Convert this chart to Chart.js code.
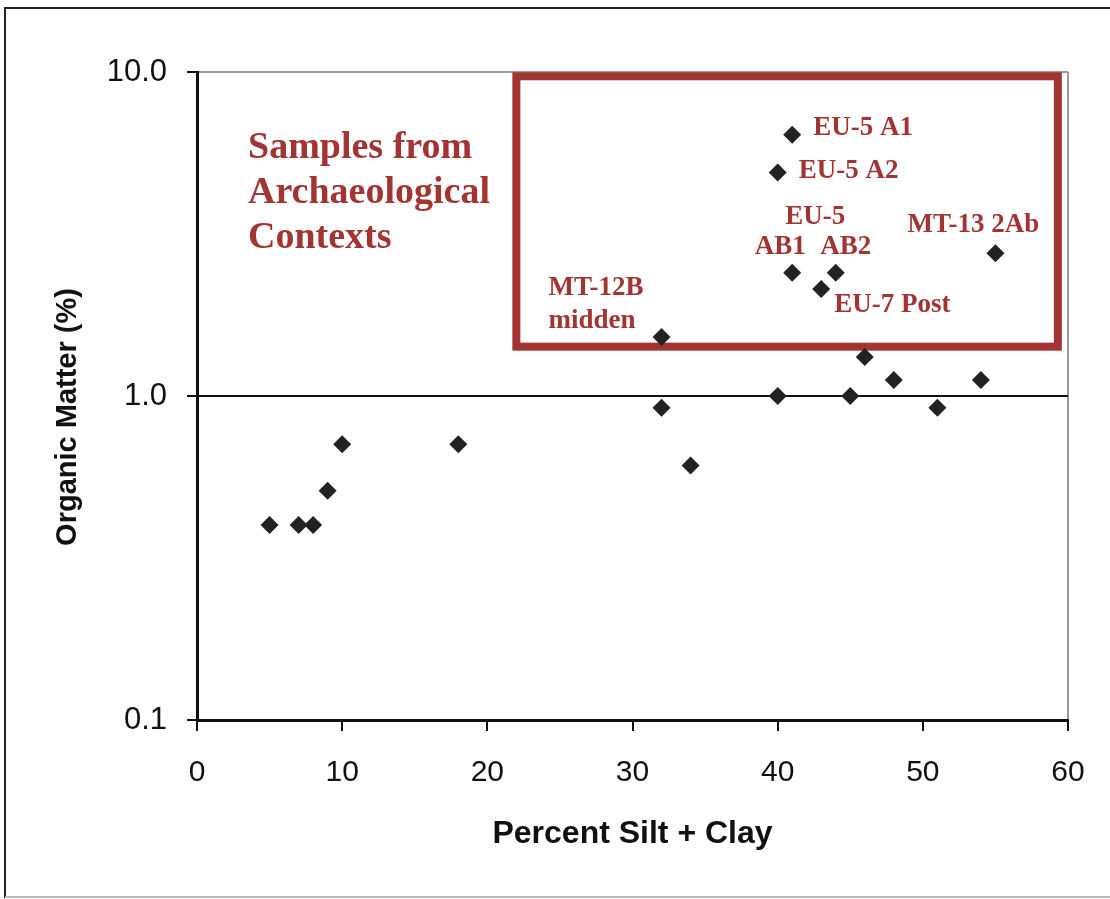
<!DOCTYPE html>
<html>
<head>
<meta charset="utf-8">
<script src="https://cdn.jsdelivr.net/npm/chart.js@4"></script>
<style>
  body { margin: 0; background: #fff; }
  #wrap { width: 1110px; height: 899px; }
</style>
</head>
<body>
<div id="wrap"><canvas id="main-chart" width="1110" height="899"></canvas></div>
<script>
// percent silt + clay (x) vs organic matter % (y)
const silt_clay = [5, 7, 8, 9, 10, 18, 32, 32, 34, 40, 41, 40, 41, 44, 43, 46, 45, 48, 51, 54, 55];
const organic = [0.40, 0.40, 0.40, 0.51, 0.71, 0.71, 1.52, 0.92, 0.61, 1.0, 6.4, 4.9, 2.4, 2.4, 2.14, 1.32, 1.0, 1.12, 0.92, 1.12, 2.76];

const y_ticks = [0.1, 1, 10];
const x_ticks = [0, 10, 20, 30, 40, 50, 60];

// labels: text, index of the point it belongs to
const label_text = ["EU-5 A1", "EU-5 A2", "EU-5", "AB1", "AB2", "EU-7 Post", "MT-13 2Ab", "MT-12B", "midden"];
const label_point = [10, 11, 12, 12, 13, 14, 20, 6, 6];

const title_lines = ["Samples from", "Archaeological", "Contexts"];
const y_title = "Organic Matter (%)";

// red box (data coords)
const box_x = [22, 59.3];
const box_y = [1.42, 9.7];

const red = "#a33434";

// pixel offsets of each label from its point
const label_offset = [
    {dx: 21, dy: -7, align: "left"},
    {dx: 21, dy: -1, align: "left"},
    {dx: 23, dy: -56, align: "center"},
    {dx: -12, dy: -26, align: "center"},
    {dx: 10, dy: -26, align: "center"},
    {dx: 13, dy: 16, align: "left"},
    {dx: -22, dy: -28, align: "center"},
    {dx: -113, dy: -49, align: "left"},
    {dx: -113, dy: -16, align: "left"}
];

const points = [];
for (let i = 0; i < silt_clay.length; i++)
    points.push({x: silt_clay[i], y: organic[i]});

const annotations = {
    id: "annotations",
    beforeDraw(chart) {
        const c = chart.ctx;
        c.save();
        c.fillStyle = "#fff";
        c.fillRect(0, 0, chart.width, chart.height);
        // outer frame
        c.strokeStyle = "#222";
        c.lineWidth = 2;
        c.beginPath();
        c.moveTo(5, 898);
        c.lineTo(5, 8);
        c.lineTo(1112, 8);
        c.stroke();
        c.strokeStyle = "#bbb";
        c.beginPath();
        c.moveTo(5, 897);
        c.lineTo(1112, 897);
        c.stroke();
        c.restore();
    },
    beforeDatasetsDraw(chart) {
        const c = chart.ctx;
        const xs = chart.scales.x, ys = chart.scales.y;
        const x0 = xs.getPixelForValue(box_x[0]), x1 = xs.getPixelForValue(box_x[1]);
        const y0 = ys.getPixelForValue(box_y[1]), y1 = ys.getPixelForValue(box_y[0]);
        c.save();
        c.strokeStyle = red;
        c.lineWidth = 8;
        c.strokeRect(x0, y0, x1 - x0, y1 - y0);
        c.restore();
    },
    afterDatasetsDraw(chart) {
        const c = chart.ctx;
        const meta = chart.getDatasetMeta(0);
        const area = chart.chartArea;
        c.save();
        c.fillStyle = red;
        c.textBaseline = "middle";
        c.font = "bold 27px 'Liberation Serif', 'Times New Roman', serif";
        for (let i = 0; i < label_text.length; i++) {
            const p = meta.data[label_point[i]];
            const o = label_offset[i];
            c.textAlign = o.align;
            c.fillText(label_text[i], p.x + o.dx, p.y + o.dy);
        }
        c.font = "bold 38px 'Liberation Serif', 'Times New Roman', serif";
        c.textAlign = "left";
        for (let i = 0; i < title_lines.length; i++)
            c.fillText(title_lines[i], area.left + 51, area.top + 76 + i * 45);

        // y axis title, sits a bit below the middle of the plot like the original
        c.fillStyle = "#111";
        c.font = "bold 29px 'Liberation Sans', Arial, sans-serif";
        c.textAlign = "center";
        c.translate(68, (area.top + area.bottom) / 2 + 21);
        c.rotate(-Math.PI / 2);
        c.fillText(y_title, 0, 0);
        c.restore();
    }
};

const config = {
    type: "scatter",
    data: {
        datasets: [{
            label: "Organic Matter",
            data: points,
            pointStyle: "rectRot",
            pointRadius: 9,
            pointHoverRadius: 9,
            backgroundColor: "#222",
            borderColor: "#222",
            borderWidth: 0
        }]
    },
    options: {
        responsive: false,
        animation: false,
        events: [],
        layout: { padding: { left: 0, top: 72, right: 42, bottom: 0 } },
        plugins: {
            legend: { display: false },
            tooltip: { enabled: false }
        },
        scales: {
            x: {
                type: "linear",
                min: 0,
                max: 60,
                afterFit(scale) { scale.height = 179; },
                afterBuildTicks(scale) { scale.ticks = x_ticks.map(v => ({value: v})); },
                ticks: {
                    color: "#111",
                    padding: 24,
                    font: { family: "'Liberation Sans', Arial, sans-serif", size: 30 },
                    maxRotation: 0
                },
                grid: {
                    color: (ctx) => ctx.tick && ctx.tick.value === 60 ? "#999" : "rgba(0,0,0,0)",
                    lineWidth: 2,
                    tickColor: "#111",
                    tickLength: 11,
                    tickWidth: 2
                },
                border: { color: "#111", width: 3 },
                title: {
                    display: true,
                    text: "Percent Silt + Clay",
                    color: "#111",
                    font: { family: "'Liberation Sans', Arial, sans-serif", size: 32, weight: "bold" },
                    padding: { top: 0, bottom: 46 }
                }
            },
            y: {
                type: "logarithmic",
                min: 0.1,
                max: 10,
                afterFit(scale) { scale.width = 197; },
                afterBuildTicks(scale) { scale.ticks = y_ticks.map(v => ({value: v})); },
                ticks: {
                    color: "#111",
                    padding: 20,
                    font: { family: "'Liberation Sans', Arial, sans-serif", size: 31 },
                    callback: (v) => Number(v).toFixed(1)
                },
                grid: {
                    color: (ctx) => {
                        if (!ctx.tick) return "rgba(0,0,0,0)";
                        if (ctx.tick.value === 1) return "#111";
                        if (ctx.tick.value === 10) return "#999";
                        return "rgba(0,0,0,0)";
                    },
                    lineWidth: 2,
                    tickColor: "#111",
                    tickLength: 10,
                    tickWidth: 2
                },
                border: { color: "#111", width: 3 },
                title: { display: false }
            }
        }
    },
    plugins: [annotations]
};

const myChart = new Chart(document.getElementById("main-chart").getContext("2d"), config);
</script>
</body>
</html>
